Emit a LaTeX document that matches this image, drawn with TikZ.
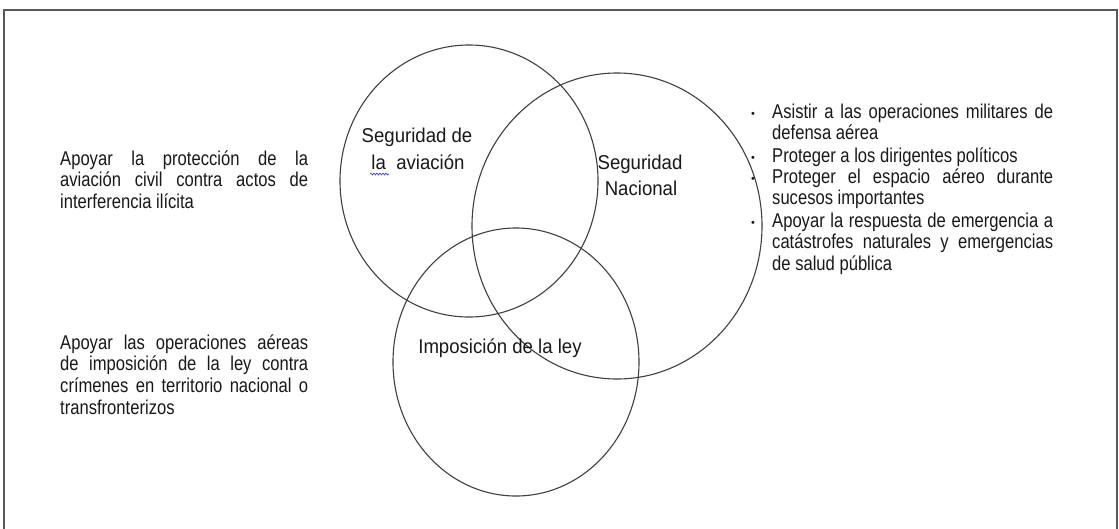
\documentclass[tikz,border=0pt]{standalone}
\usepackage{fontspec}
\setmainfont{Liberation Sans}
\newfontfamily\bodyfont[FakeStretch=0.83]{Liberation Sans}
\newfontfamily\labfont[FakeStretch=0.93]{Liberation Sans}
\usetikzlibrary{decorations.pathmorphing,shapes.geometric}
\hbadness=10000
\hfuzz=5pt
\begin{document}
\begin{tikzpicture}[x=1pt,y=-1pt,
  frameline/.style={draw=black!65, line width=1.4pt},
  ring/.style={draw=black!75, line width=1.1pt, ellipse, inner sep=0pt},
  lab/.style={inner sep=0pt, anchor=base, text=black!90, font=\labfont\fontsize{20}{22}\selectfont},
  body/.style={inner sep=0pt, anchor=base west, text=black!90, align=justify, font=\bodyfont\fontsize{20}{21.7}\selectfont},
  bul/.style={inner sep=0pt, anchor=base, text=black!90, font=\fontsize{11}{12}\selectfont}]
\useasboundingbox (0,0) rectangle (1119,528);
\fill[white] (0,0) rectangle (1119,528);
% frame
\draw[frameline] (4,530) -- (4,10) -- (1117,10) -- (1117,530);
% circles
\node[ring, minimum width=258pt, minimum height=272pt] (aviation) at (469,181) {};
\node[ring, minimum width=290pt, minimum height=306pt] (national) at (617,226) {};
\node[ring, minimum width=246pt, minimum height=268pt] (law) at (516,362) {};
% circle labels
\node[lab] (av1) at (417,142) {Seguridad de};
\node[lab] (av2) at (418,169) {la\ \ aviación};
\draw[blue!80, line width=0.6pt, decorate, decoration={snake, amplitude=1pt, segment length=3pt}] (370,174) -- (389,174);
\node[lab] (na1) at (640,169) {Seguridad};
\node[lab] (na2) at (641,195) {Nacional};
\node[lab] (lw) at (500,353) {Imposición de la ley};
% left texts
\node[body, text width=248pt] (t1) at (60,165) {Apoyar la protección de la\linebreak aviación civil contra actos de\linebreak interferencia ilícita};
\node[body, text width=248pt] (t2) at (60,349) {Apoyar las operaciones aéreas\linebreak de imposición de la ley contra\linebreak crímenes en territorio nacional o\linebreak transfronterizos};
% right list
\node[bul] (b1) at (753,117) {•};
\node[body, text width=281pt] (r1) at (772,118) {Asistir a las operaciones militares de\linebreak defensa aérea};
\node[bul] (b2) at (753,161) {•};
\node[body, text width=281pt] (r2) at (772,162) {Proteger a los dirigentes políticos};
\node[bul] (b3) at (753,182) {•};
\node[body, text width=281pt] (r3) at (772,183) {Proteger el espacio aéreo durante\linebreak sucesos importantes};
\node[bul] (b4) at (753,226) {•};
\node[body, text width=281pt] (r4) at (772,227) {Apoyar la respuesta de emergencia a\linebreak catástrofes naturales y emergencias\linebreak de salud pública};
\end{tikzpicture}
\end{document}
